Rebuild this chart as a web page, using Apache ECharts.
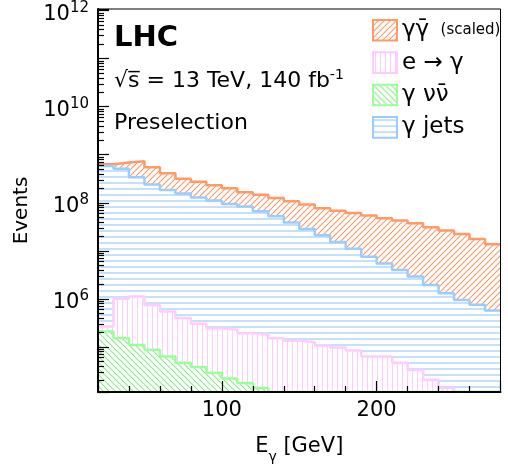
<!DOCTYPE html>
<html>
<head>
<meta charset="utf-8">
<script src="https://cdn.jsdelivr.net/npm/echarts@6.0.0/dist/echarts.min.js"></script>
<style>
html, body { margin: 0; padding: 0; background: #fff; }
#chart { width: 508px; height: 472px; }
</style>
</head>
<body>
<div id="chart"></div>
<script>
// 10 GeV bins from 20 to 280 GeV (lower edges + last upper edge)
var binEdges = [20, 30, 40, 50, 60, 70, 80, 90, 100, 110, 120, 130, 140, 150, 160,
                170, 180, 190, 200, 210, 220, 230, 240, 250, 260, 270, 280]

// events per bin
var gammaGamma = [5.0e7, 1.79e8, 3.89e8, 3.12e8, 2.28e8, 1.59e8, 1.43e8, 1.19e8, 1.07e8, 8.3e7,
                  8.0e7, 7.3e7, 6.9e7, 6.4e7, 5.6e7, 5.27e7, 4.98e7, 4.66e7, 4.24e7, 3.87e7,
                  3.47e7, 2.91e7, 2.51e7, 2.13e7, 1.68e7, 1.31e7]
var gammaJets = [5.83e8, 5.07e8, 3.37e8, 2.38e8, 1.84e8, 1.55e8, 1.29e8, 1.11e8, 9.4e7, 8.3e7,
                 6.6e7, 5.2e7, 3.87e7, 2.84e7, 2.10e7, 1.51e7, 1.10e7, 7.5e6, 5.4e6, 3.95e6,
                 2.88e6, 1.93e6, 1.30e6, 9.5e5, 7.5e5, 5.7e5]
var eToGamma = [5.7e4, 8.5e5, 1.01e6, 6.6e5, 4.8e5, 3.5e5, 2.64e5, 2.16e5, 2.04e5, 1.75e5,
                1.64e5, 1.52e5, 1.34e5, 1.26e5, 1.07e5, 9.7e4, 8.4e4, 6.3e4, 6.3e4, 4.7e4,
                3.3e4, 2.06e4, 1.39e4, 0, 0, 0]
var gammaNuNu = [2.08e5, 1.52e5, 1.10e5, 8.7e4, 6.3e4, 4.7e4, 3.8e4, 2.9e4, 2.2e4, 1.76e4,
                 1.39e4, 0, 0, 0, 0, 0, 0, 0, 0, 0,
                 0, 0, 0, 0, 0, 0]

var seriesNames = ['γγ̄', 'e → γ', 'γ νν̄', 'γ jets']
var yLabelExponents = [6, 8, 10, 12]
var xTickLabels = [100, 200]

var yMin = 1.15e4
var yMax = 1.08e12
var F = '"DejaVu Sans", "Liberation Sans", sans-serif'

var colors = ['rgb(255,153,102)', 'rgb(255,204,255)', 'rgb(153,255,153)', 'rgb(153,204,255)']
var hatchKinds = ['/', 'v', '\\', 'h']
var hatchColors = ['rgb(255,153,102)', 'rgb(255,204,255)', 'rgb(136,238,136)', 'rgb(166,208,248)']
var hatchSizes = [6, 5, 6, 6]

function hatch(idx) {
    var size = hatchSizes[idx], kind = hatchKinds[idx]
    var c = document.createElement('canvas')
    c.width = size
    c.height = size
    var ctx = c.getContext('2d')
    ctx.fillStyle = '#ffffff'
    ctx.fillRect(0, 0, size, size)
    ctx.strokeStyle = hatchColors[idx]
    ctx.lineWidth = kind == 'h' ? 1.3 : 1.1
    ctx.beginPath()
    if (kind == 'h') { ctx.moveTo(0, size / 2); ctx.lineTo(size, size / 2) }
    if (kind == 'v') { ctx.moveTo(size / 2, 0); ctx.lineTo(size / 2, size) }
    if (kind == '/') {
        ctx.moveTo(-2, size + 2); ctx.lineTo(size + 2, -2)
        ctx.moveTo(-2, 2); ctx.lineTo(2, -2)
        ctx.moveTo(size - 2, size + 2); ctx.lineTo(size + 2, size - 2)
    }
    if (kind == '\\') {
        ctx.moveTo(-2, -2); ctx.lineTo(size + 2, size + 2)
        ctx.moveTo(size - 2, -2); ctx.lineTo(size + 2, 2)
        ctx.moveTo(-2, size - 2); ctx.lineTo(2, size + 2)
    }
    ctx.stroke()
    return {image: c, repeat: 'repeat'}
}

// stack from the bottom: gamma nunu, e->gamma, gamma jets, gamma gamma
var stackOrder = [gammaNuNu, eToGamma, gammaJets, gammaGamma]
var totals = []
var run = gammaNuNu.map(function () { return 0 })
stackOrder.forEach(function (vals) {
    run = run.map(function (r, i) { return r + vals[i] })
    totals.push(run)
})

function histData(total) {
    // empty bins are drawn on the frame floor, as ROOT does
    return binEdges.map(function (x, i) {
        var v = total[Math.min(i, total.length - 1)]
        return [x, v > 0 ? v : yMin]
    })
}

function histSeries(idx, total, z) {
    return {
        name: seriesNames[idx],
        type: 'line',
        step: 'end',
        symbol: 'none',
        z: z,
        clip: true,
        silent: true,
        data: histData(total),
        color: colors[idx],
        lineStyle: {color: colors[idx], width: 2.5},
        itemStyle: {color: colors[idx]},
        areaStyle: {color: hatch(idx), opacity: 1, origin: 'start'},
        emphasis: {disabled: true}
    }
}

var chart = echarts.init(document.getElementById('chart'), null, {renderer: 'canvas'})
chart.setOption({
    animation: false,
    backgroundColor: '#fff',
    aria: {enabled: false, decal: {show: false}},
    grid: {
        left: 98, right: 7.5, top: 9, bottom: 80,
        containLabel: false, outerBoundsMode: 'none',
        show: true, borderColor: '#000', borderWidth: 1, backgroundColor: 'transparent', z: 10
    },
    legend: {
        orient: 'vertical', left: 372, top: 18.7, padding: 0,
        itemWidth: 24, itemHeight: 20.6, itemGap: 9.4,
        icon: 'rect', selectedMode: false,
        textStyle: {
            fontFamily: F, fontSize: 23, color: '#000',
            rich: {s: {fontFamily: F, fontSize: 15, color: '#000', padding: [0, 0, 0, 4]}}
        },
        formatter: function (n) { return n == seriesNames[0] ? n + ' {s|(scaled)}' : n },
        data: seriesNames.map(function (n, i) {
            return {name: n, itemStyle: {color: hatch(i), borderColor: colors[i], borderWidth: 2}}
        })
    },
    xAxis: {
        type: 'value', min: 20, max: 280, splitNumber: 2, z: 10,
        name: '{n|E}{g|γ}{n| [GeV]}', nameLocation: 'middle', nameGap: 44,
        nameTextStyle: {
            rich: {
                n: {fontFamily: F, fontSize: 21, color: '#000', lineHeight: 28, verticalAlign: 'top'},
                g: {fontFamily: F, fontSize: 14, color: '#000', lineHeight: 14, verticalAlign: 'bottom'}
            }
        },
        axisLine: {show: true, onZero: false, lineStyle: {color: '#000', width: 2}},
        axisTick: {show: true, inside: true, length: 11, lineStyle: {color: '#000', width: 1.2}},
        minorTick: {show: true, splitNumber: 5, length: 6, lineStyle: {color: '#000', width: 1.2}},
        splitLine: {show: false},
        axisLabel: {
            fontFamily: F, fontSize: 21, color: '#000', margin: 8,
            formatter: function (v) { return xTickLabels.indexOf(v) >= 0 ? String(v) : '' }
        }
    },
    yAxis: {
        type: 'log', logBase: 10, min: yMin, max: yMax, z: 10,
        name: 'Events', nameLocation: 'middle', nameGap: 56,
        nameTextStyle: {fontFamily: F, fontSize: 20, color: '#000', padding: [0, 20, 0, 0]},
        axisLine: {show: true, lineStyle: {color: '#000', width: 2}},
        axisTick: {show: true, inside: true, length: 11, lineStyle: {color: '#000', width: 1.2}},
        minorTick: {show: true, splitNumber: 9, length: 6, lineStyle: {color: '#000', width: 1.2}},
        splitLine: {show: false},
        axisLabel: {
            margin: 9, padding: [8, 0, 0, 0],
            formatter: function (v) {
                var e = Math.log10(v)
                var r = Math.round(e)
                if (Math.abs(e - r) > 1e-6 || yLabelExponents.indexOf(r) < 0) return ''
                return '{b|10}{e|' + r + '}'
            },
            rich: {
                b: {fontFamily: F, fontSize: 21, color: '#000', lineHeight: 28},
                e: {fontFamily: F, fontSize: 15, color: '#000', lineHeight: 15, verticalAlign: 'top'}
            }
        }
    },
    graphic: [
        {type: 'text', x: 114, y: 38, z: 20,
         style: {text: 'LHC', fontFamily: F, fontSize: 29, fontWeight: 'bold', fill: '#000', verticalAlign: 'middle'}},
        {type: 'text', x: 114, y: 81, z: 20,
         style: {
             text: '{a|√s̅ = 13 TeV, 140 fb}{p|-1}', fill: '#000', verticalAlign: 'middle',
             rich: {
                 a: {fontFamily: F, fontSize: 22, color: '#000', lineHeight: 26},
                 p: {fontFamily: F, fontSize: 14, color: '#000', lineHeight: 13, verticalAlign: 'top'}
             }
         }},
        {type: 'text', x: 114, y: 123, z: 20,
         style: {text: 'Preselection', fontFamily: F, fontSize: 22, fill: '#000', verticalAlign: 'middle'}}
    ],
    series: [
        histSeries(0, totals[3], 2),
        histSeries(3, totals[2], 3),
        histSeries(1, totals[1], 4),
        histSeries(2, totals[0], 5)
    ]
})
</script>
</body>
</html>
